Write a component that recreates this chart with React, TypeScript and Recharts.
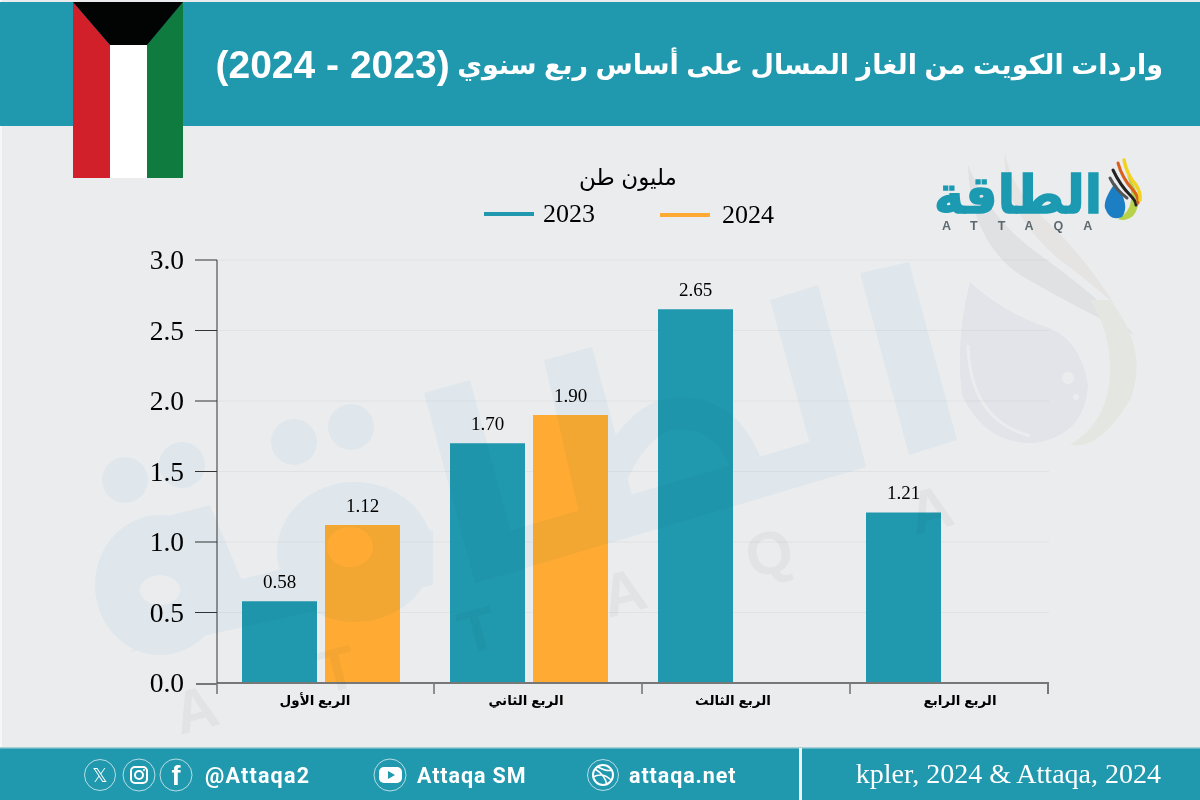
import React from "react";
import { BarChart, Bar, XAxis, YAxis, CartesianGrid, Legend, LabelList } from "recharts";

const quarters = ["الربع الأول", "الربع الثاني", "الربع الثالث", "الربع الرابع"];
const values2023 = [0.58, 1.7, 2.65, 1.21];
const values2024: (number | null)[] = [1.12, 1.9, null, null];
const yTicks = [0, 0.5, 1, 1.5, 2, 2.5, 3];
const seriesNames = ["2023", "2024"];
const unitLabel = "مليون طن";
const titleWords = "واردات الكويت من الغاز المسال على أساس ربع سنوي ";
const titleYears = "(2023 - 2024)";
const sourceText = "kpler, 2024 & Attaqa, 2024";

const data = quarters.map((q, i) => ({ q, a: values2023[i], b: values2024[i] }));

const TEAL = "#2098AE";
const ORANGE = "#FFAB33";
const SERIF = "'Liberation Serif', serif";
const AR = "'Liberation Sans', 'DejaVu Sans', sans-serif";
const WM = "#F3FAFD";

const labelShift = [-6, -3, -4, 15];
const edgeShift = [113, 113, 113, 103];

function XTick(props: any) {
  const { x, y, payload, index } = props;
  const last = index === 3;
  return (
    <g>
      {index === 0 && <line x1={x - 104} x2={x - 104} y1={y - 7} y2={y + 3} stroke="#333" strokeWidth={1} />}
      {index === 0 && <line x1={x - 125} x2={x - 104} y1={y - 7} y2={y - 7} stroke="#777" strokeWidth={2} />}
      <line x1={x + edgeShift[index]} x2={x + edgeShift[index]} y1={y - 7} y2={y + 3} stroke={last ? "#777" : "#333"} strokeWidth={last ? 2 : 1} />
      <text x={x + labelShift[index]} y={y + 14} textAnchor="middle" fontFamily={AR} fontWeight={700} fontSize={13.5} fill="#000">{payload.value}</text>
    </g>
  );
}

function YTick(props: any) {
  const { x, y, payload } = props;
  return (
    <g>
      {payload.value !== 0 && <line x1={x + 10} x2={x + 32} y1={y} y2={y} stroke="#333" strokeWidth={1} />}
      <text x={x - 1} y={y + 9} textAnchor="end" fontFamily={SERIF} fontSize={27.5} fill="#000">{payload.value.toFixed(1)}</text>
    </g>
  );
}

function LegendBox(props: any) {
  const items = props.payload || [];
  return (
    <div style={{ position: "relative", width: 330, height: 60 }}>
      <div style={{ position: "absolute", left: 0, width: 288, top: 0, textAlign: "center", fontFamily: AR, fontSize: 23, lineHeight: "30px", color: "#000", direction: "rtl" }}>
        {unitLabel}
      </div>
      {items.map((it: any, i: number) => (
        <div key={i} style={{ position: "absolute", left: i * 176, top: 39 + i, display: "flex", alignItems: "center", height: 26 }}>
          <span style={{ display: "inline-block", width: 50, height: 4, background: it.color, marginRight: 9 + i * 3 }} />
          <span style={{ fontFamily: SERIF, fontSize: 26, color: "#000" }}>{it.value}</span>
        </div>
      ))}
    </div>
  );
}

export default function App() {
  return (
    <div style={{ position: "fixed", left: 0, top: 0, width: 1200, height: 800, background: "#EBECEE", overflow: "hidden" }}>
      <svg width={1200} height={800} style={{ position: "absolute", left: 0, top: 0 }}>
        <rect x={0} y={0} width={2} height={800} fill="#F6F7F7" />
        <rect x={0} y={2} width={1200} height={124} fill={TEAL} />
        <rect x={0} y={748} width={1200} height={52} fill={TEAL} />
        <rect x={0} y={747} width={1200} height={1.5} fill="#A9CFD7" />
        <rect x={799} y={748} width={3} height={52} fill="#EEF2F3" />
      </svg>

      <div style={{ position: "absolute", left: 0, top: 0 }}>
        <BarChart
          width={1200}
          height={800}
          data={data}
          margin={{ top: 190, right: 151, bottom: 57, left: 0 }}
          barSize={75}
          barGap={8}
          style={{ background: "transparent" }}
        >
          <CartesianGrid vertical={false} stroke="#E0E2E4" strokeWidth={1.2} />
          <XAxis
            dataKey="q"
            height={60}
            axisLine={{ stroke: "#777", strokeWidth: 2 }}
            tickLine={false}
            interval={0}
            tick={<XTick />}
          />
          <YAxis
            width={217}
            domain={[0, 3]}
            ticks={yTicks}
            axisLine={{ stroke: "#333", strokeWidth: 1 }}
            tickLine={false}
            tickSize={22}
            tickMargin={10}
            tick={<YTick />}
            interval={0}
          />
          <Legend
            verticalAlign="top"
            align="left"
            content={<LegendBox />}
            wrapperStyle={{ position: "absolute", left: 484, top: 162, width: 330, height: 70 }}
          />
          <Bar dataKey="a" name={seriesNames[0]} fill={TEAL} isAnimationActive={false}>
            <LabelList dataKey="a" position="top" offset={13} formatter={(v: number) => v.toFixed(2)} style={{ fontFamily: SERIF, fontSize: 19, fill: "#000" }} />
          </Bar>
          <Bar dataKey="b" name={seriesNames[1]} fill={ORANGE} isAnimationActive={false}>
            <LabelList dataKey="b" position="top" offset={13} formatter={(v: any) => (v == null ? "" : v.toFixed(2))} style={{ fontFamily: SERIF, fontSize: 19, fill: "#000" }} />
          </Bar>
        </BarChart>
      </div>

      {/* Watermark: multiplied over the chart, as in the picture */}
      <svg width={1200} height={800} style={{ position: "absolute", left: 0, top: 0, mixBlendMode: "multiply", pointerEvents: "none" }}>
        <g fill={WM}>
          <circle cx={125} cy={480} r={23} />
          <circle cx={182} cy={465} r={23} />
          <circle cx={294} cy={442} r={23} />
          <circle cx={351} cy={427} r={23} />
          <ellipse cx={160} cy={585} rx={65} ry={70} />
          <ellipse cx={355} cy={552} rx={78} ry={70} />
          <polygon points="164,517 210,505 250,600 190,625" />
          <polygon points="130,652 433,585 433,530 200,590" />
          <polygon points="424,393 470,380 521,570 475,583" />
          <polygon points="475,583 866,467 856,428 465,544" />
          <polygon points="544,360 592,347 640,525 585,540 576,500" />
          <polygon points="770,300 818,285 866,467 820,480" />
          <polygon points="860,273 909,262 957,440 909,455" />
          <path d="M600 505 Q625 430 665 415 Q722 405 745 462" fill="none" stroke={WM} strokeWidth={32} />
          <path d="M968 165 Q970 240 1020 275 Q1080 310 1135 335 Q1090 290 1040 255 Q990 220 968 165 Z" fill="#F4F4F4" />
          <path d="M1005 152 Q1000 210 1060 260 Q1100 290 1115 305 Q1080 250 1040 215 Q1010 185 1005 152 Z" fill="#F9F7F3" />
          <path d="M1110 300 Q1150 350 1130 400 Q1100 450 1070 445 Q1110 420 1110 370 Q1110 330 1090 300 Z" fill="#F8F9F3" />
          <path d="M970 282 Q955 340 962 395 Q985 445 1035 443 Q1085 435 1088 385 Q1080 335 1040 325 Q1000 310 970 282 Z" fill="#F6F7FB" />
        </g>
        <ellipse cx={160} cy={590} rx={20} ry={15} fill="#FFFFFF" />
        <ellipse cx={350} cy={547} rx={23} ry={20} fill="#FFFFFF" />
        <path d="M968 345 Q970 420 1030 436" fill="none" stroke="#FFFFFF" strokeWidth={3} />
        <circle cx={1068} cy={378} r={6} fill="#FFFFFF" />
        <circle cx={1076} cy={397} r={3} fill="#FFFFFF" />
        <g fontFamily={AR} fontWeight={700} fontSize={60} fill="#F5F6F6">
          <text transform="translate(180 735) rotate(-15)">A</text>
          <text transform="translate(325 694) rotate(-15)">T</text>
          <text transform="translate(465 655) rotate(-15)">T</text>
          <text transform="translate(608 618) rotate(-15)">A</text>
          <text transform="translate(752 579) rotate(-15)">Q</text>
          <text transform="translate(915 535) rotate(-15)">A</text>
        </g>
      </svg>

      <svg width={1200} height={800} style={{ position: "absolute", left: 0, top: 0, pointerEvents: "none" }}>
        <polygon points="73,2 110,45 110,178 73,178" fill="#D2202A" />
        <rect x={110} y={45} width={37} height={133} fill="#FFFFFF" />
        <polygon points="183,2 147,45 147,178 183,178" fill="#0F7B3E" />
        <polygon points="73,2 183,2 147,45 110,45" fill="#020404" />
        <text x={1163} y={74} direction="rtl" textAnchor="start" fontFamily={AR} fontWeight={700} fontSize={27} fill="#FFFFFF">
          <tspan>{titleWords}</tspan>
          <tspan fontSize={39} dy={4}>{titleYears}</tspan>
        </text>
        <text x={1161} y={783} textAnchor="end" fontFamily={SERIF} fontSize={28} fill="#FFFFFF">{sourceText}</text>

        {/* Footer icons and handles */}
        <g fill="none" stroke="#DDEFF2" strokeWidth={0.8}>
          <circle cx={100} cy={775} r={15.5} />
          <circle cx={139} cy={775} r={16} />
          <circle cx={176} cy={775} r={16} />
          <circle cx={390} cy={775} r={16} />
          <circle cx={603} cy={775} r={15.5} />
        </g>
        <text x={100} y={782} textAnchor="middle" fontFamily="'DejaVu Sans'" fontSize={19} fill="#FFFFFF">𝕏</text>
        <rect x={131} y={767} width={16} height={16} rx={4} fill="none" stroke="#FFF" strokeWidth={2} />
        <circle cx={139} cy={775} r={4} fill="none" stroke="#FFF" strokeWidth={2} />
        <circle cx={144} cy={770} r={1} fill="#FFF" />
        <text x={176} y={785} textAnchor="middle" fontFamily={AR} fontWeight={700} fontSize={27} fill="#FFFFFF">f</text>
        <rect x={379} y={767} width={23} height={16} rx={5} fill="#FFFFFF" />
        <polygon points="388,771 388,779 395,775" fill={TEAL} />
        <circle cx={603} cy={775} r={10} fill="none" stroke="#FFF" strokeWidth={2} />
        <path d="M595 769 Q605 775 607 785 M598 767 Q607 772 612 770 M593 777 Q603 772 611 780" fill="none" stroke="#FFF" strokeWidth={1.5} />
        <g fontFamily="Roboto, sans-serif" fontWeight={700} fontSize={21.5} fill="#FFFFFF">
          <text x={205} y={783} letterSpacing={1.2}>@Attaqa2</text>
          <text x={417} y={783} letterSpacing={0.9}>Attaqa SM</text>
          <text x={629} y={783} letterSpacing={0.9}>attaqa.net</text>
        </g>

        {/* Logo */}
        <text x={1102} y={213} direction="rtl" textAnchor="start" fontFamily={AR} fontWeight={700} fontSize={52} fill="#1B9AB2" stroke="#1B9AB2" strokeWidth={1.6} textLength={168} lengthAdjust="spacingAndGlyphs">الطاقة</text>
        <text x={942} y={230} fontFamily={AR} fontWeight={700} fontSize={12.5} fill="#5D6970" letterSpacing={20}>ATTAQA</text>
        <path d="M1127 175 Q1146 200 1133 216 Q1125 222 1118 219 Q1130 212 1131 200 Q1132 188 1127 175 Z" fill="#B7D24A" />
        <path d="M1115 183 Q1103 200 1105 208 Q1110 222 1122 217 Q1131 205 1115 183 Z" fill="#1C7FC4" />
        <g fill="none" strokeLinecap="round">
          <path d="M1110 178 Q1116 190 1127 198" stroke="#555" strokeWidth={3} />
          <path d="M1113 170 Q1120 185 1130 195 Q1136 201 1136 205" stroke="#222" strokeWidth={3} />
          <path d="M1118 163 Q1122 178 1133 190 Q1139 197 1138 203" stroke="#D9601F" strokeWidth={3} />
          <path d="M1124 160 Q1127 175 1136 185 Q1141 193 1140 200" stroke="#F2D321" strokeWidth={3.5} />
        </g>
      </svg>
    </div>
  );
}
